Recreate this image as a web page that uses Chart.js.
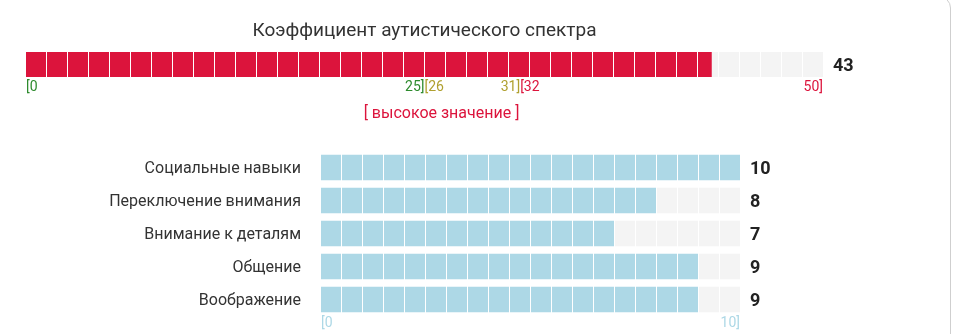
<!DOCTYPE html>
<html>
<head>
<meta charset="utf-8">
<script src="https://cdn.jsdelivr.net/npm/chart.js@4.4.1/dist/chart.umd.min.js"></script>
<style>
  body { margin: 0; background: #fff; width: 960px; height: 334px; overflow: hidden; position: relative; font-family: Roboto, sans-serif; }
  .card { position: absolute; left: -20px; top: -4px; width: 971px; height: 420px; border: 1px solid #cfcfcf; border-radius: 12px; box-sizing: border-box; }
  #aqChart { position: absolute; left: 0; top: 0; }
  #subChart { position: absolute; left: 0; top: 130px; }
</style>
</head>
<body>
<div class="card"></div>
<canvas id="aqChart" width="960" height="130"></canvas>
<canvas id="subChart" width="960" height="204"></canvas>
<script>
// общий балл
const aqTitle = 'Коэффициент аутистического спектра';
const aqCategory = ['AQ'];
const aqScore = [43];
const aqMax = 50;
const aqRanges = [[0, 25], [26, 31], [32, 50]];
const aqRangeColors = ['#2e8b2e', '#b0a030', '#dc143c'];
const aqVerdict = '[ высокое значение ]';

// субшкалы
const subLabels = ['Социальные навыки', 'Переключение внимания', 'Внимание к деталям', 'Общение', 'Воображение'];
const subScores = [10, 8, 7, 9, 9];
const subMax = 10;

const RED = '#dc143c';
const BLUE = '#add8e6';
const TRACK = '#f4f4f4';

// белые промежутки между ячейками (ячейка 20px + 1px)
const cellGaps = {
    id: 'cellGaps',
    afterDatasetsDraw(chart) {
        const { ctx, chartArea: a } = chart;
        ctx.save();
        ctx.fillStyle = '#fff';
        for (let x = a.left + 20; x < a.right; x += 21) {
            ctx.fillRect(x, a.top, 1, a.bottom - a.top);
        }
        ctx.restore();
    }
};

function barOptions(padding, max) {
    return {
        indexAxis: 'y',
        responsive: false,
        animation: false,
        events: [],
        layout: { padding: padding },
        scales: {
            x: { display: false, min: 0, max: max },
            y: { display: false }
        },
        plugins: { legend: { display: false }, tooltip: { enabled: false } }
    };
}

const aqText = {
    id: 'aqText',
    afterDraw(chart) {
        const { ctx, chartArea: a } = chart;
        const xs = chart.scales.x;
        const yc = chart.scales.y.getPixelForValue(0);
        ctx.save();
        ctx.textBaseline = 'middle';

        ctx.fillStyle = '#333';
        ctx.font = '19px Roboto';
        ctx.textAlign = 'center';
        ctx.fillText(aqTitle, (a.left + a.right) / 2, 31);

        ctx.fillStyle = '#222';
        ctx.font = 'bold 18px Roboto';
        ctx.textAlign = 'left';
        ctx.fillText(aqScore[0], a.right + 10, yc + 2);

        ctx.font = '14px Roboto';
        aqRanges.forEach((r, i) => {
            ctx.fillStyle = aqRangeColors[i];
            const start = i === 0 ? xs.getPixelForValue(r[0]) : xs.getPixelForValue(aqRanges[i - 1][1]);
            ctx.textAlign = 'left';
            ctx.fillText('[' + r[0], start, 87);
            ctx.textAlign = 'right';
            ctx.fillText(r[1] + ']', xs.getPixelForValue(r[1]), 87);
        });

        ctx.fillStyle = RED;
        ctx.font = '16px Roboto';
        ctx.textAlign = 'center';
        ctx.fillText(aqVerdict, 441.5, 114);
        ctx.restore();
    }
};

new Chart(document.getElementById('aqChart'), {
    type: 'bar',
    data: {
        labels: aqCategory,
        datasets: [{
            data: aqScore,
            backgroundColor: RED,
            barThickness: 25,
            grouped: false
        }, {
            data: aqScore.map(v => [v, aqMax]),
            backgroundColor: TRACK,
            barThickness: 25,
            grouped: false
        }]
    },
    options: barOptions({ left: 26, right: 137, top: 52, bottom: 53 }, aqMax),
    plugins: [cellGaps, aqText]
});

const subText = {
    id: 'subText',
    afterDraw(chart) {
        const { ctx, chartArea: a } = chart;
        const xs = chart.scales.x;
        const ys = chart.scales.y;
        ctx.save();
        ctx.textBaseline = 'middle';
        subLabels.forEach((label, i) => {
            const y = ys.getPixelForValue(i);
            ctx.fillStyle = '#333';
            ctx.font = '16px Roboto';
            ctx.textAlign = 'right';
            ctx.fillText(label, a.left - 20, y + 1);
            ctx.fillStyle = '#222';
            ctx.font = 'bold 18px Roboto';
            ctx.textAlign = 'left';
            ctx.fillText(subScores[i], a.right + 10, y + 2);
        });
        ctx.fillStyle = BLUE;
        ctx.font = '14px Roboto';
        ctx.textAlign = 'left';
        ctx.fillText('[0', xs.getPixelForValue(0), 193);
        ctx.textAlign = 'right';
        ctx.fillText(subMax + ']', xs.getPixelForValue(subMax), 193);
        ctx.restore();
    }
};

new Chart(document.getElementById('subChart'), {
    type: 'bar',
    data: {
        labels: subLabels,
        datasets: [{
            data: subScores,
            backgroundColor: BLUE,
            barThickness: 25,
            grouped: false
        }, {
            data: subScores.map(v => [v, subMax]),
            backgroundColor: TRACK,
            barThickness: 25,
            grouped: false
        }]
    },
    options: barOptions({ left: 321, right: 220, top: 21, bottom: 18 }, subMax),
    plugins: [cellGaps, subText]
});
</script>
</body>
</html>
